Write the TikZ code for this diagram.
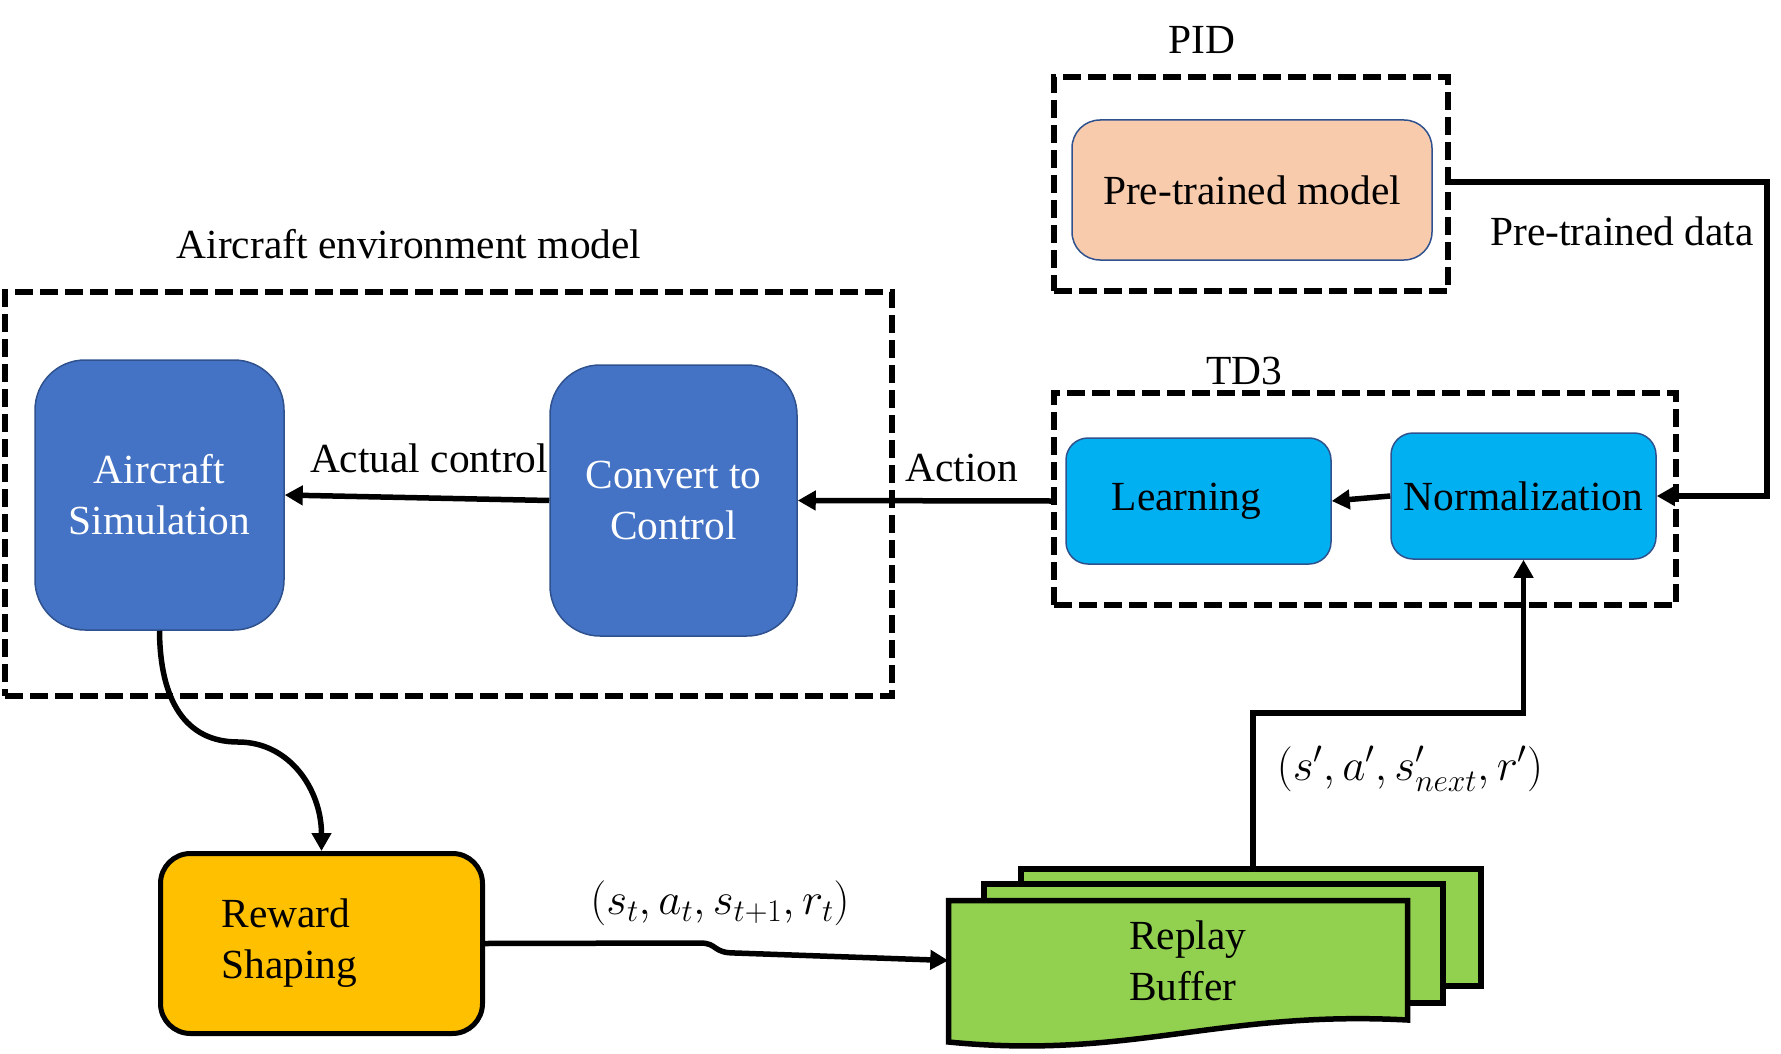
\RequirePackage{fix-cm}
\documentclass[tikz,border=0pt]{standalone}
\usepackage{fontspec}
\setmainfont{Liberation Serif}
\usetikzlibrary{arrows.meta,positioning}
\definecolor{simblue}{HTML}{4472C4}
\definecolor{tdblue}{HTML}{00B0F0}
\definecolor{peach}{HTML}{F8CBAD}
\definecolor{gold}{HTML}{FFC000}
\definecolor{buffergreen}{HTML}{92D050}
\definecolor{edgeblue}{HTML}{2F528F}
\begin{document}
\begin{tikzpicture}[x=1pt, y=-1pt,
        every node/.style={font=\fontsize{41.4}{51}\selectfont},
        dashbox/.style={draw, line width=6pt, dash pattern=on 18pt off 7pt},
        block/.style={draw=edgeblue, line width=1.5pt, rounded corners=#1, align=center},
        block/.default=22pt,
        arrow/.style={line width=5.5pt, -{Triangle[length=18pt, width=19pt]}},
        sheet/.style={draw, fill=buffergreen, line width=5.5pt},
        tuplefont/.style={font=\fontsize{45}{54}\selectfont}]
            \path[use as bounding box] (0, 0) rectangle (1781, 1054);

            \path (238, 742) coordinate (S1);
            \path (700, 943) coordinate (R1);
            \path (735, 953) coordinate (R2);
            \path (1253, 867) coordinate (B0);
            \path (1253, 713) coordinate (B1);
            \path (1767, 182) coordinate (P1);

            \node[dashbox, minimum width=887, minimum height=404] (envbox) at (448.5, 494) {};
            \node[dashbox, minimum width=394, minimum height=214] (pid) at (1251, 184) {};
            \node[dashbox, minimum width=622, minimum height=212] (td3) at (1365, 499) {};
            \node (envlabel) at (409, 244) {Aircraft environment model};
            \node (pidlabel) at (1202, 40) {PID};
            \node (td3label) at (1244, 371) {TD3};

            \node[block=50pt, fill=simblue, text=white, minimum width=249, minimum height=270] (sim) at (159.5, 495) {Aircraft\\Simulation};
            \node[block=50pt, fill=simblue, text=white, minimum width=247, minimum height=271] (conv) at (673.5, 500.5) {Convert to\\Control};
            \node[block=28pt, fill=peach, minimum width=360, minimum height=140] (pre) at (1252, 190) {Pre-trained model};
            \node[block, fill=tdblue, minimum width=265, minimum height=126] (learn) at (1198.5, 501) {\hspace*{-24pt}Learning};
            \node[block, fill=tdblue, minimum width=265, minimum height=126] (norm) at (1523.5, 496) {Normalization};
            \node[draw, line width=5pt, rounded corners=30pt, fill=gold, minimum width=322, minimum height=180,
                  text width=200pt, align=left] (reward) at (321.5, 943.5) {Reward\\Shaping};

            \filldraw[sheet] (1021, 869) rectangle (1481, 986);
            \filldraw[sheet] (984, 884) rectangle (1443, 1003);
            \filldraw[sheet] (948.5, 900.5) -- (1407.5, 900.5) -- (1407.5, 1020)
                .. controls (1220, 1010) and (1130, 1060) .. (948.5, 1042) -- cycle;
            \node[minimum width=459, minimum height=120, text width=98pt, align=left] (buffer) at (1178, 960.5) {Replay\\Buffer};

            \draw[arrow] (conv.west) -- (sim.east);
            \draw[arrow] (td3.west |- learn.west) -- (conv.east);
            \draw[arrow] (norm.west) -- (learn.east);
            \draw[arrow] (pid.east |- P1) -- (P1) |- (norm.east);
            \draw[arrow] (sim.south) .. controls (160, 700) and (185, 742) .. (S1)
                .. controls (290, 742) and (321.5, 790) .. (reward.north);
            \draw[arrow] (reward.east) -- (R1) .. controls (718, 943) and (712, 953) .. (R2) -- (buffer.west);
            \draw[arrow] (B0) -- (B1) -| (norm.south);

            \node (actual) at (429, 458) {Actual control};
            \node (action) at (962, 468) {Action};
            \node (pretrained) at (1622, 231) {Pre-trained data};
            \node[tuplefont] (tuple) at (720, 903) {$(s_t, a_t, s_{t+1}, r_t)$};
            \node[tuplefont] (tuplenext) at (1410, 769) {$(s', a', s'_{next}, r')$};
\end{tikzpicture}
\end{document}
